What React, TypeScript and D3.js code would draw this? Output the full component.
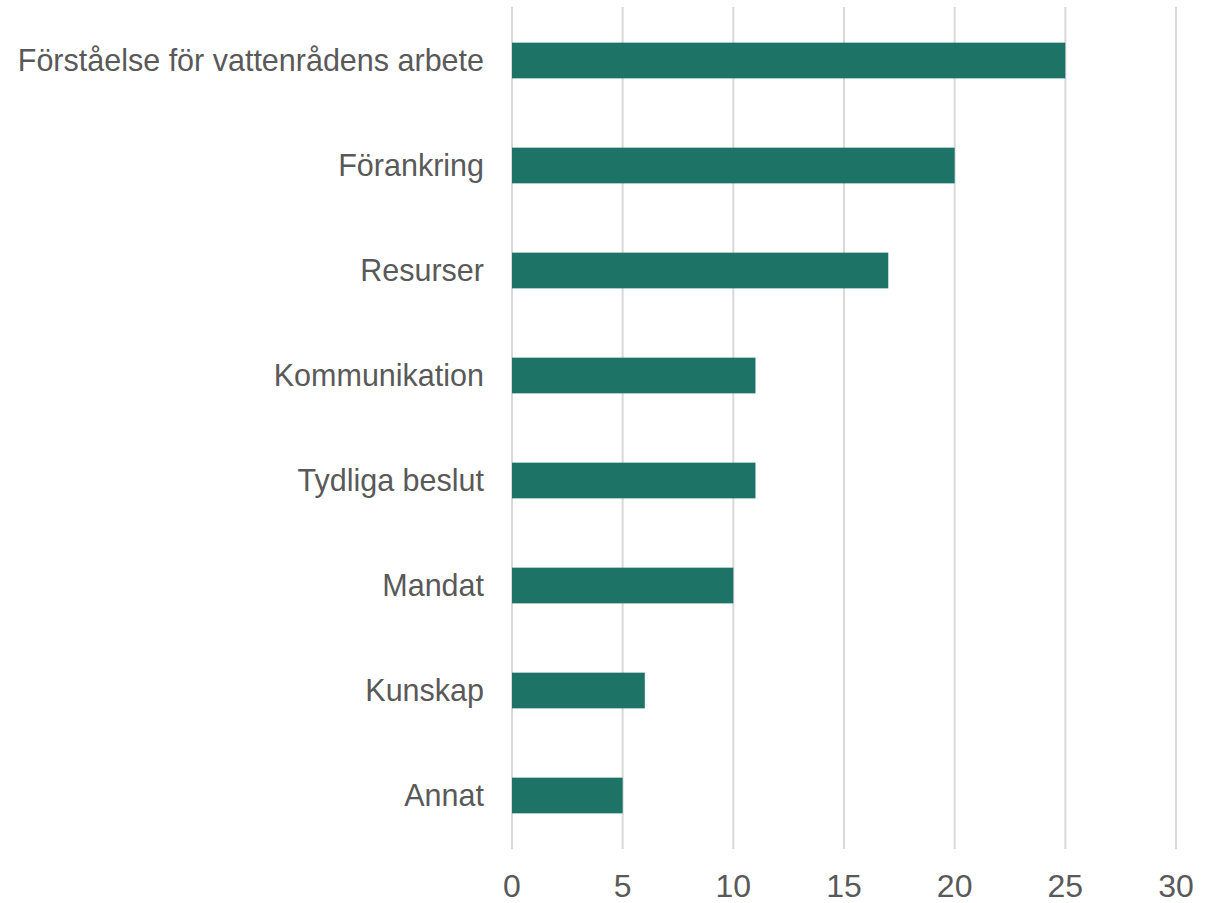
import * as d3 from "d3";

const categories = [
  "Förståelse för vattenrådens arbete",
  "Förankring",
  "Resurser",
  "Kommunikation",
  "Tydliga beslut",
  "Mandat",
  "Kunskap",
  "Annat",
];
const values = [25, 20, 17, 11, 11, 10, 6, 5];
const ticks = [0, 5, 10, 15, 20, 25, 30];

export default function App() {
  const width = 1220;
  const height = 903;
  const marginLeft = 512;
  const marginRight = 44;
  const marginTop = 8;
  const plotBottom = 848;

  const x = d3.scaleLinear().domain([0, 30]).range([marginLeft, width - marginRight]);
  const y = d3
    .scaleBand()
    .domain(categories)
    .range([marginTop, plotBottom])
    .paddingInner(0.66)
    .paddingOuter(0.33);

  const font = "'Liberation Sans', Arial, sans-serif";

  return (
    <svg width={width} height={height} style={{ position: "absolute", left: 0, top: 0, background: "white" }}>
      {/* gridlines */}
      {ticks.map((t) => (
        <line key={t} x1={x(t)} x2={x(t)} y1={marginTop - 1} y2={plotBottom + 1} stroke="#d9d9d9" strokeWidth={2} />
      ))}
      {/* bars */}
      {categories.map((c, i) => (
        <rect key={c} x={x(0)} y={y(c)} width={x(values[i]) - x(0)} height={y.bandwidth()} fill="#1c7366" />
      ))}
      {/* category labels */}
      {categories.map((c) => (
        <text
          key={c}
          x={marginLeft - 28}
          y={(y(c) ?? 0) + y.bandwidth() / 2}
          dy="0.35em"
          textAnchor="end"
          fontFamily={font}
          fontSize={30.5}
          fill="#595959"
        >
          {c}
        </text>
      ))}
      {/* tick labels */}
      {ticks.map((t) => (
        <text key={t} x={x(t)} y={897} textAnchor="middle" fontFamily={font} fontSize={32} fill="#595959">
          {t}
        </text>
      ))}
    </svg>
  );
}
